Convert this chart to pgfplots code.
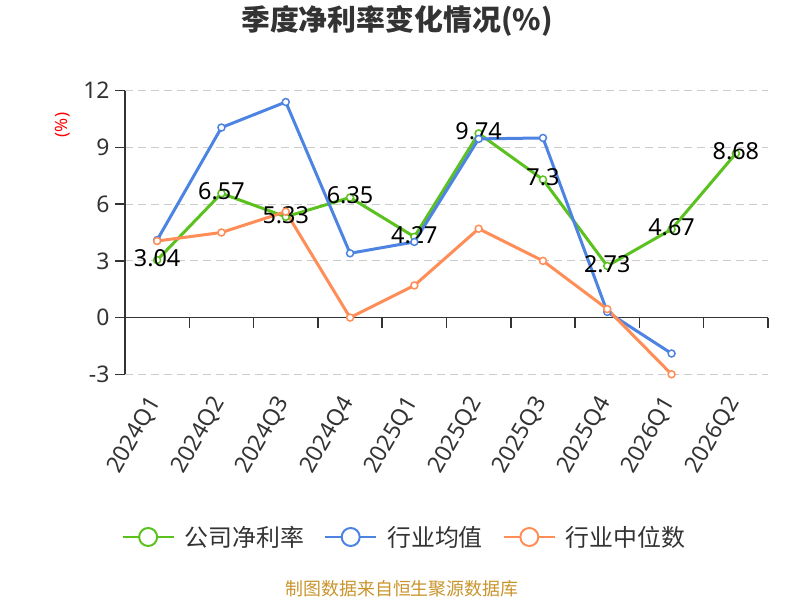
\documentclass[border=0pt]{standalone}
\usepackage{pgfplots}
\pgfplotsset{compat=1.18}
\usepackage{fontspec}
\setmainfont{Noto Sans}
\newfontfamily\cjk{Noto Sans CJK SC}
\definecolor{cgreen}{HTML}{5AC11F}
\definecolor{cblue}{HTML}{4D84E2}
\definecolor{corange}{HTML}{FF8D57}
\definecolor{ctext}{HTML}{333333}
\definecolor{csrc}{HTML}{C9942C}
\definecolor{cgrid}{HTML}{CCCCCC}
\begin{document}
\begin{tikzpicture}[x=1bp,y=1bp]
\useasboundingbox (0,0) rectangle (800,600);
\node[font=\cjk\bfseries\fontsize{29}{32}\selectfont, text=ctext] at (397,579) {季度净利率变化情况(\%)};
\node[rotate=90, text=red, font=\fontsize{17}{19}\selectfont] at (63,475) {(\%)};
\node[text=csrc, font=\cjk\fontsize{18}{20}\selectfont] at (402,11) {制图数据来自恒生聚源数据库};
\begin{axis}[
  at={(125bp,225.7bp)}, anchor=south west,
  scale only axis, width=643bp, height=283.6bp,
  xmin=-0.5, xmax=9.5, ymin=-3, ymax=12,
  clip=false,
  axis y line*=left, axis x line*=bottom,
  x axis line style={draw=none},
  y axis line style={ctext, line width=1.5bp},
  xtick={0,...,9},
  xticklabels={2024Q1,2024Q2,2024Q3,2024Q4,2025Q1,2025Q2,2025Q3,2025Q4,2026Q1,2026Q2},
  x tick style={draw=none},
  ytick={-3,0,3,6,9,12},
  y tick style={ctext, line width=1.5bp},
  tick align=outside, major tick length=10bp,
  ymajorgrids, major grid style={cgrid, dash pattern=on 8bp off 5bp, line width=1.2bp},
  tick label style={font=\fontsize{23}{25}\selectfont, text=ctext},
  /pgf/number format/assume math mode=true,
  x tick label style={rotate=60, anchor=east},
  xticklabel shift=12bp,
  yticklabel shift=2bp,
  legend style={at={(axis description cs:0.4347,-0.5737)}, anchor=center, draw=none, fill=none,
    font=\cjk\fontsize{24}{26}\selectfont, text=ctext,
    /tikz/every odd column/.append style={column sep=8bp},
    /tikz/every even column/.append style={column sep=18bp}},
  legend columns=3,
  legend cell align=left,
  legend image code/.code={
    \draw[line width=2bp] (0bp,0bp) -- (51bp,0bp);
    \draw[line width=2bp, fill=white] (25.5bp,0bp) circle (9bp);
  },
]
\draw[ctext, line width=1.5bp] (axis cs:-0.5,0) -- (axis cs:9.5,0);
\pgfplotsinvokeforeach{-0.5,0.5,1.5,2.5,3.5,4.5,5.5,6.5,7.5,8.5,9.5}{
  \draw[ctext, line width=1.5bp] (axis cs:#1,0) -- ++(0bp,-10bp);
}
\addplot[cgreen, line width=3bp, mark=*, mark size=3.5bp,
  mark options={fill=white, draw=cgreen, line width=1.5bp},
  nodes near coords, point meta=explicit symbolic,
  every node near coord/.append style={font=\fontsize{23.5}{25}\selectfont, text=black, anchor=center, yshift=2bp}]
  table[meta=label] {
x y label
0 3.04 3.04
1 6.57 6.57
2 5.33 5.33
3 6.35 6.35
4 4.27 4.27
5 9.74 9.74
6 7.3 7.3
7 2.73 2.73
8 4.67 4.67
9 8.68 8.68
};
\addplot[cblue, line width=3bp, mark=*, mark size=3.5bp,
  mark options={fill=white, draw=cblue, line width=1.5bp}]
  table {
x y
0 4.1
1 10.05
2 11.4
3 3.4
4 4.0
5 9.45
6 9.5
7 0.3
8 -1.9
};
\addplot[corange, line width=3bp, mark=*, mark size=3.5bp,
  mark options={fill=white, draw=corange, line width=1.5bp}]
  table {
x y
0 4.05
1 4.5
2 5.6
3 0.0
4 1.7
5 4.7
6 3.0
7 0.45
8 -3.0
};
\legend{公司净利率,行业均值,行业中位数}
\end{axis}
\end{tikzpicture}
\end{document}
